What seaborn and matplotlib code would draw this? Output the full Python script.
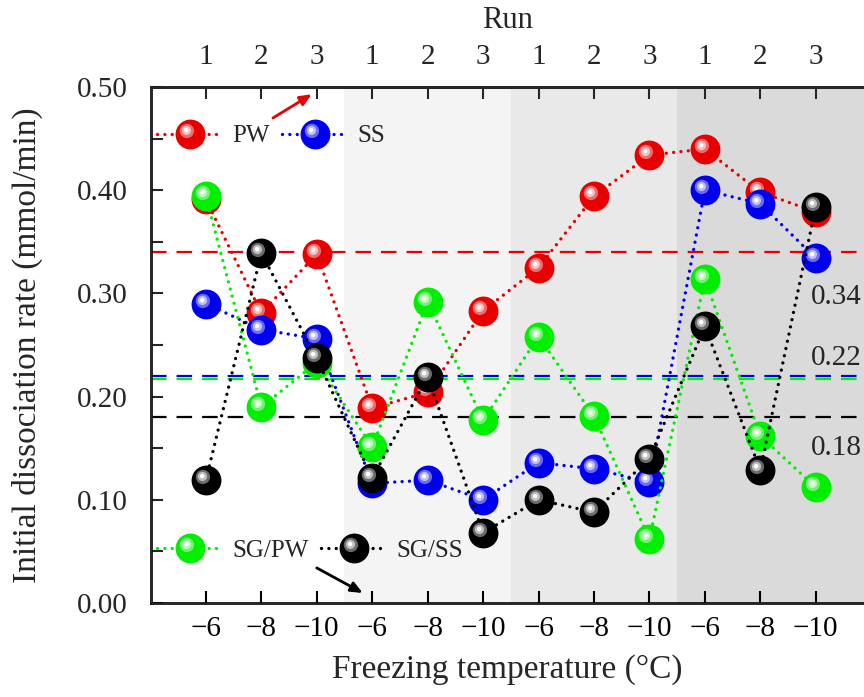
import matplotlib
matplotlib.use("Agg")
import matplotlib.pyplot as plt
import matplotlib.transforms as mtransforms
import numpy as np
import pandas as pd
import seaborn as sns
from matplotlib.path import Path
from matplotlib.lines import Line2D
from matplotlib.legend_handler import HandlerTuple
from matplotlib.ticker import MultipleLocator, FormatStrFormatter
from matplotlib.colors import to_rgb

# ---- data -------------------------------------------------------------
temp_labels = ["−6", "−8", "−10"] * 4
run_labels = ["1", "2", "3"] * 4

pw = [0.391, 0.281, 0.338, 0.189, 0.204, 0.283, 0.325, 0.394, 0.434, 0.440, 0.398, 0.379]
ss = [0.290, 0.265, 0.256, 0.116, 0.119, 0.100, 0.136, 0.130, 0.117, 0.400, 0.387, 0.334]
sg_pw = [0.394, 0.190, 0.233, 0.151, 0.292, 0.177, 0.258, 0.181, 0.062, 0.314, 0.162, 0.112]
sg_ss = [0.119, 0.339, 0.237, 0.121, 0.219, 0.068, 0.100, 0.088, 0.140, 0.268, 0.129, 0.384]

series_names = ["PW", "SS", "SG/PW", "SG/SS"]
series_values = [pw, ss, sg_pw, sg_ss]
series_colors = ["#e80000", "#0000f0", "#00ee00", "#000000"]

# average levels (dashed lines) and the text printed next to them
mean_levels = [0.34, 0.22, 0.22, 0.18]
mean_text = [("0.34", 0.34, -32), ("0.22", 0.22, 13), ("0.18", 0.18, -22)]

# shaded blocks behind the runs
band_spans = [(2.5, 5.5), (5.5, 8.5), (8.5, 12.5)]
band_colors = ["#f4f4f4", "#e9e9e9", "#dadada"]

# ---- style ------------------------------------------------------------
sns.set_style("ticks")
plt.rcParams["font.family"] = ["Liberation Serif", "DejaVu Serif"]
plt.rcParams["axes.unicode_minus"] = True

MS = 21.5          # sphere diameter, points
LW_DOT = 2.4
DOTS = (0, (0.01, 2.2))


def disc(cx, cy, r):
    """Circle marker path offset inside the unit marker box."""
    anchor = Path([(1.0, 1.0), (-1.0, -1.0)], [Path.MOVETO, Path.MOVETO])
    return Path.make_compound_path(anchor, Path.circle((cx, cy), r))


# glossy highlight layers on each sphere: (path, amount of white)
HIGHLIGHTS = [
    (disc(-0.24, 0.24, 0.48), 0.42),
    (disc(-0.27, 0.27, 0.31), 0.75),
    (disc(-0.29, 0.29, 0.15), 1.00),
]


def tint(color, frac):
    c = np.array(to_rgb(color))
    return tuple(c + (1.0 - c) * frac)


fig = plt.figure(figsize=(8.64, 6.97), dpi=100)
ax = fig.add_axes([151 / 864, 1 - 603 / 697, 1 - 151 / 864, 516 / 697])
ax.set_facecolor("white")

for (x0, x1), bc in zip(band_spans, band_colors):
    ax.axvspan(x0, x1, color=bc, lw=0, zorder=0)

# dashed average lines (green sits just under the blue one)
for i, (lvl, col) in enumerate(zip(mean_levels, series_colors)):
    ln = ax.axhline(lvl, color=col, lw=1.6, linestyle=(0, (7, 4.5)),
                    zorder=1 + (0.5 if i == 1 else 0))
    if i == 2:
        ln.set_transform(ln.get_transform()
                         + mtransforms.ScaledTranslation(0, -2.2 / 72, fig.dpi_scale_trans))

for label, lvl, off in mean_text:
    ax.annotate(label, xy=(0.997, lvl), xycoords=("axes fraction", "data"),
                xytext=(0, off), textcoords="offset points",
                ha="right", va="center", fontsize=21, zorder=2)

pos = np.arange(len(temp_labels))
frames = []
for name, vals in zip(series_names, series_values):
    frames.append(pd.DataFrame({"pos": pos, "rate": vals, "series": name}))
df = pd.concat(frames, ignore_index=True)

for k, (name, col) in enumerate(zip(series_names, series_colors)):
    sub = df[df["series"] == name]
    z = 3 + 2 * k
    sns.lineplot(data=sub, x="pos", y="rate", color=col, lw=LW_DOT,
                 linestyle=DOTS, dash_capstyle="round", ax=ax, zorder=z)
    sns.scatterplot(data=sub, x="pos", y="rate", color=col, marker="o",
                    s=MS ** 2, linewidth=0, ax=ax, zorder=z + 0.5)
    for path, frac in HIGHLIGHTS:
        sns.scatterplot(data=sub, x="pos", y="rate", color=tint(col, frac),
                        marker=path, s=MS ** 2, linewidth=0, ax=ax,
                        zorder=z + 0.6 + frac / 10)

# ---- axes -------------------------------------------------------------
xlim = (-0.99, 11.87)
ax.set_xlim(*xlim)
ax.set_ylim(0, 0.5)
ax.set_xticks(pos)
ax.set_xticklabels(temp_labels)
ax.yaxis.set_major_locator(MultipleLocator(0.1))
ax.yaxis.set_minor_locator(MultipleLocator(0.05))
ax.yaxis.set_major_formatter(FormatStrFormatter("%.2f"))
ax.tick_params(axis="x", which="both", direction="in", length=8.6, width=1.5,
               labelsize=21, pad=9, top=False, bottom=True, colors="black")
ax.tick_params(axis="y", which="both", direction="in", length=8.6, width=1.5,
               labelsize=21, pad=17, right=False, left=True)
ax.set_xlabel("Freezing temperature (°C)", fontsize=24, labelpad=9)
ax.set_ylabel("Initial dissociation rate (mmol/min)", fontsize=24, labelpad=24)
for side in ("left", "bottom", "top"):
    ax.spines[side].set_linewidth(1.9)
    ax.spines[side].set_color("black")
ax.spines["right"].set_visible(False)

ax2 = ax.twiny()
ax2.set_xlim(*xlim)
ax2.set_xticks(pos)
ax2.set_xticklabels(run_labels)
ax2.tick_params(axis="x", direction="in", length=8.6, width=1.5, labelsize=21, pad=12)
ax2.set_xlabel("Run", fontsize=22, labelpad=12)
ax2.spines["top"].set_linewidth(1.9)
ax2.spines["right"].set_visible(False)
ax2.patch.set_visible(False)

# arrows pointing at the two x scales
ax.annotate("", xy=(1.91, 0.493), xytext=(1.21, 0.470),
            arrowprops=dict(arrowstyle="-|>,head_length=0.7,head_width=0.3",
                            color=series_colors[0], lw=2, shrinkA=0, shrinkB=0),
            zorder=20)
ax.annotate("", xy=(2.83, 0.0097), xytext=(2.0, 0.034),
            arrowprops=dict(arrowstyle="-|>,head_length=0.7,head_width=0.3",
                            color="black", lw=2, shrinkA=0, shrinkB=0),
            zorder=20)


# ---- legends ----------------------------------------------------------
def legend_handle(col):
    parts = [Line2D([], [], color=col, lw=LW_DOT, linestyle=DOTS, dash_capstyle="round",
                    marker="o", markersize=MS, markerfacecolor=col, markeredgewidth=0)]
    for path, frac in HIGHLIGHTS:
        parts.append(Line2D([], [], linestyle="none", marker=path, markersize=MS,
                            markerfacecolor=tint(col, frac), markeredgewidth=0))
    return tuple(parts)


handles = [legend_handle(c) for c in series_colors]
common = dict(loc="center left", ncol=2, frameon=False, handlelength=2.6,
              handletextpad=0.4, columnspacing=0.5, borderaxespad=0, borderpad=0.25,
              fontsize=18, handler_map={tuple: HandlerTuple(ndivide=1, pad=0)})
leg1 = ax.legend(handles[:2], series_names[:2], bbox_to_anchor=(0, 0.905), **common)
ax.add_artist(leg1)
leg2 = ax.legend(handles[2:], series_names[2:], bbox_to_anchor=(0, 0.101), **common)
leg1.set_zorder(30)
leg2.set_zorder(30)

fig.savefig("out.png", dpi=100)
